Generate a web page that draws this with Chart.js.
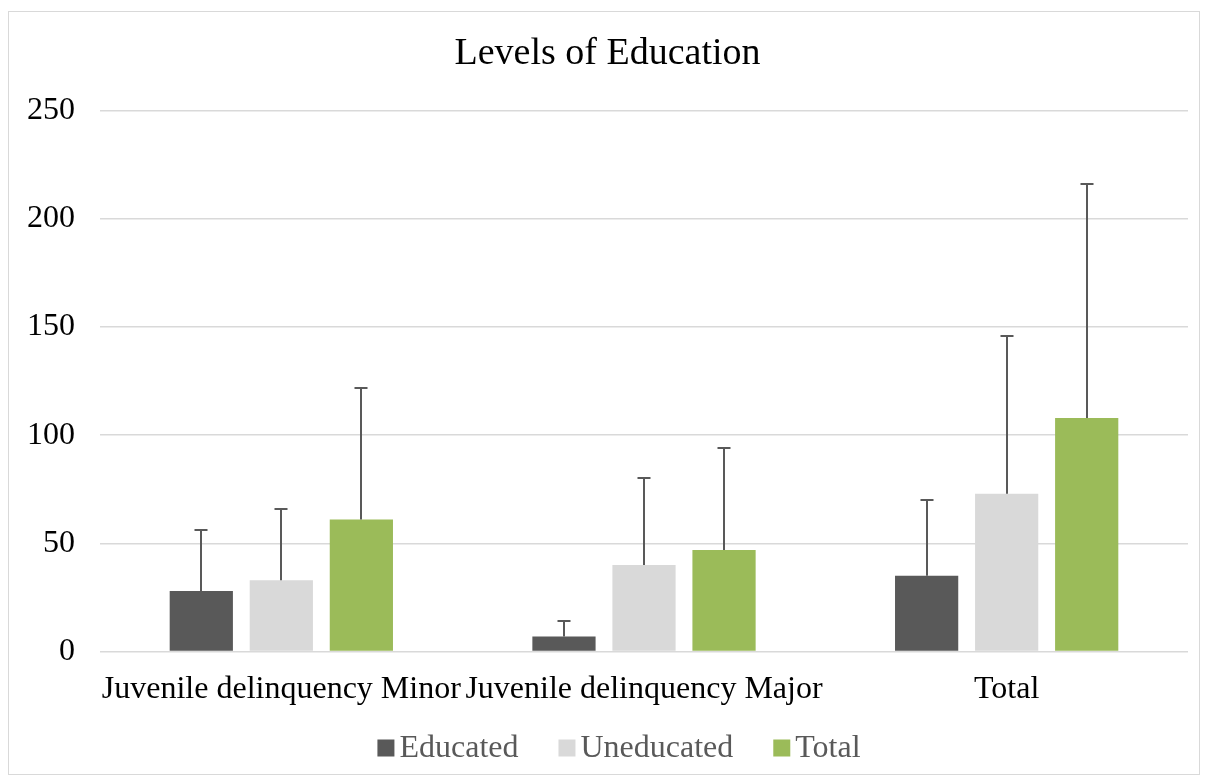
<!DOCTYPE html>
<html>
<head>
<meta charset="utf-8">
<script src="https://cdn.jsdelivr.net/npm/chart.js@4.4.1/dist/chart.umd.min.js"></script>
<style>
  html, body { margin: 0; padding: 0; background: #ffffff; }
  #frame { position: absolute; left: 8px; top: 11px; width: 1190px; height: 762px; border: 1px solid #d9d9d9; background: #fff; }
  #wrap { position: absolute; left: 0; top: 0; width: 1190px; height: 762px; }
</style>
</head>
<body>
<div id="frame"><div id="wrap"><canvas id="c"></canvas></div></div>
<script>
const categories = ["Juvenile delinquency Minor", "Juvenile delinquency Major", "Total"];
const seriesNames = ["Educated", "Uneducated", "Total"];
const educated = [28, 7, 35];
const uneducated = [33, 40, 73];
const total = [61, 47, 108];
const educatedErr = [28, 7, 35];
const uneducatedErr = [33, 40, 73];
const totalErr = [61, 47, 108];
const yTicks = [0, 50, 100, 150, 200, 250];

const errors = [educatedErr, uneducatedErr, totalErr];
const FONT = '"Liberation Serif", "Times New Roman", serif';

const errorBarPlugin = {
  id: 'errorBars',
  afterDatasetsDraw(chart) {
    const ctx = chart.ctx;
    const yScale = chart.scales.y;
    ctx.save();
    ctx.strokeStyle = '#595959';
    ctx.lineWidth = 2;
    chart.data.datasets.forEach((ds, i) => {
      const meta = chart.getDatasetMeta(i);
      meta.data.forEach((el, j) => {
        const v = ds.data[j];
        const e = errors[i][j];
        const x = Math.round(el.x);
        const yTop = Math.round(yScale.getPixelForValue(v + e));
        const yBase = yScale.getPixelForValue(v);
        ctx.beginPath();
        ctx.moveTo(x, yBase);
        ctx.lineTo(x, yTop);
        ctx.moveTo(x - 6.5, yTop);
        ctx.lineTo(x + 6.5, yTop);
        ctx.stroke();
      });
    });
    ctx.restore();
  }
};

const legendPlugin = {
  id: 'customLegend',
  afterDraw(chart) {
    const ctx = chart.ctx;
    ctx.save();
    ctx.font = '32px ' + FONT;
    ctx.textBaseline = 'middle';
    const box = 17, gapText = 5, gapItem = 40;
    const items = chart.data.datasets.map(ds => ({ text: ds.label, color: ds.backgroundColor, w: ctx.measureText(ds.label).width }));
    let totalW = 0;
    items.forEach((it, i) => { totalW += box + gapText + it.w + (i < items.length - 1 ? gapItem : 0); });
    let x = chart.width / 2 + 15 - totalW / 2;
    const cy = chart.height - 26;
    items.forEach(it => {
      ctx.fillStyle = it.color;
      ctx.fillRect(x, cy - box / 2, box, box);
      x += box + gapText;
      ctx.fillStyle = '#595959';
      ctx.fillText(it.text, x, cy + 1);
      x += it.w + gapItem;
    });
    ctx.restore();
  }
};

new Chart(document.getElementById('c'), {
  type: 'bar',
  data: {
    labels: categories,
    datasets: [
      { label: seriesNames[0], data: educated, backgroundColor: '#595959' },
      { label: seriesNames[1], data: uneducated, backgroundColor: '#d9d9d9' },
      { label: seriesNames[2], data: total, backgroundColor: '#9bbb59' }
    ]
  },
  options: {
    responsive: true,
    maintainAspectRatio: false,
    animation: false,
    layout: { padding: { left: 18, right: 11, top: 8, bottom: 54 } },
    datasets: { bar: { categoryPercentage: 0.662, barPercentage: 0.79 } },
    plugins: {
      title: {
        display: true,
        text: 'Levels of Education',
        color: '#000000',
        font: { family: FONT, size: 38, weight: 'normal' },
        padding: { top: 11, bottom: 34 }
      },
      legend: { display: false },
      tooltip: { enabled: false }
    },
    scales: {
      x: {
        grid: { display: false },
        border: { display: false },
        ticks: {
          color: '#000000',
          padding: 11,
          maxRotation: 0,
          autoSkip: false,
          font: { family: FONT, size: 32 }
        }
      },
      y: {
        min: 0,
        max: 250,
        afterBuildTicks(axis) { axis.ticks = yTicks.map(v => ({ value: v })); },
        afterFit(scale) { scale.width = 73; },
        grid: { color: '#d9d9d9', lineWidth: 1.5, drawTicks: false },
        border: { display: false },
        ticks: {
          color: '#000000',
          padding: 25,
          font: { family: FONT, size: 32 }
        }
      }
    }
  },
  plugins: [errorBarPlugin, legendPlugin]
});
</script>
</body>
</html>
